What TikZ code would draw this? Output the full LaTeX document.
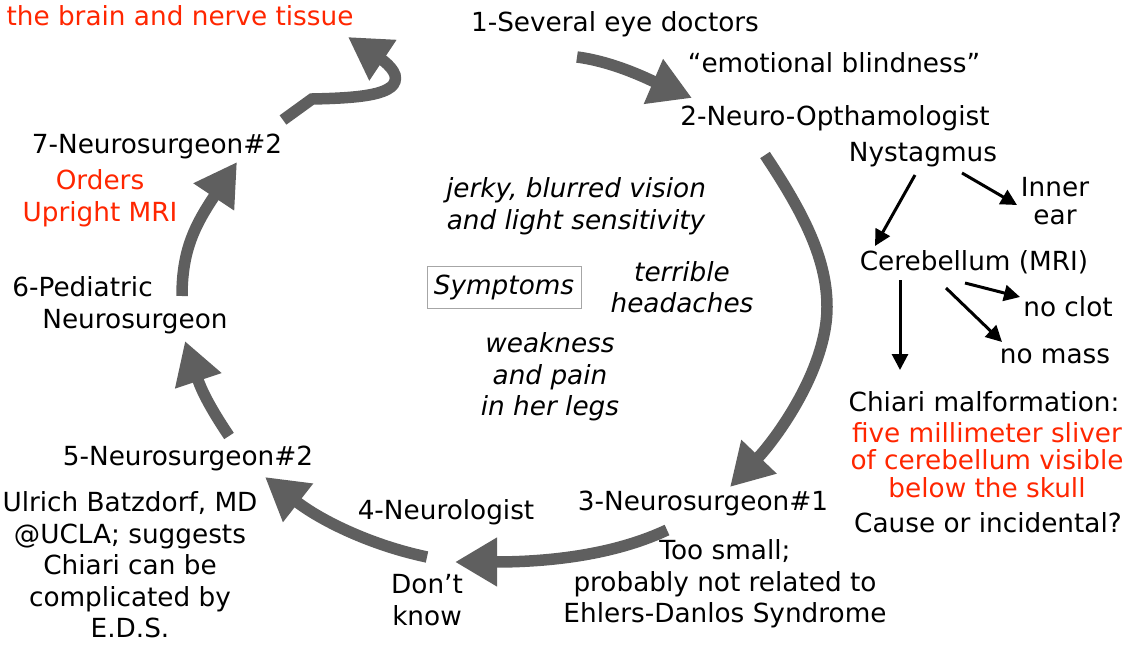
\documentclass[tikz,border=0pt]{standalone}
\usepackage{fontspec}
\setmainfont{DejaVu Sans}
\usetikzlibrary{arrows.meta}
\definecolor{redtxt}{RGB}{255,38,0}
\definecolor{arrgray}{RGB}{95,95,95}
\tikzset{
  txt/.style={inner sep=0pt, align=center, font=\fontsize{26.3}{31.5}\selectfont},
  tight/.style={font=\fontsize{26.3}{27.5}\selectfont},
  redt/.style={text=redtxt},
  itx/.style={font=\fontsize{26.3}{31.5}\selectfont\itshape},
  bigarrow/.style={draw=arrgray, line width=11.5pt,
    -{Triangle[length=42pt,width=46pt,fill=arrgray]}},
  smallarrow/.style={draw=black, line width=3pt,
    -{Triangle[length=16pt,width=16pt]}},
  symbox/.style={draw=black!35, line width=1pt, minimum width=154pt, minimum height=42pt, inner sep=0pt}
}
\begin{document}
\begin{tikzpicture}[x=1pt,y=-1pt]
\useasboundingbox (0,0) rectangle (1127,647);

% ---- texts ----
\node[txt,redt] (brain) at (180,16) {the brain and nerve tissue};
\node[txt] (n1) at (615,24) {1-Several eye doctors};
\node[txt] (emo) at (834,63) {“emotional blindness”};
\node[txt] (n2) at (835,118) {2-Neuro-Opthamologist};
\node[txt] (nys) at (923,155) {Nystagmus};
\node[txt,tight] (inner) at (1055,201) {Inner\\ear};
\node[txt] (cer) at (974,262) {Cerebellum (MRI)};
\node[txt] (clot) at (1068,307) {no clot};
\node[txt] (mass) at (1055,356) {no mass};
\node[txt] (chiari) at (984,402) {Chiari malformation:};
\node[txt,tight,redt] (sliver) at (987,460) {five millimeter sliver\\of cerebellum visible\\below the skull};
\node[txt] (cause) at (988,523) {Cause or incidental?};
\node[txt] (n3) at (703,503) {3-Neurosurgeon\#1};
\node[txt] (small) at (725,584) {Too small;\\probably not related to\\Ehlers-Danlos Syndrome};
\node[txt] (n4) at (446,512) {4-Neurologist};
\node[txt] (dont) at (427,600) {Don’t\\know};
\node[txt] (n5) at (188,458) {5-Neurosurgeon\#2};
\node[txt] (ulrich) at (130,565) {Ulrich Batzdorf, MD\\@UCLA; suggests\\Chiari can be\\complicated by\\E.D.S.};
\node[txt,align=left] (n6) at (120,305) {6-Pediatric\\\hspace*{30pt}Neurosurgeon};
\node[txt] (n7) at (157,146) {7-Neurosurgeon\#2};
\node[txt,redt] (orders) at (100,198) {Orders\\Upright MRI};
\node[txt,itx] (jerky) at (576,206) {jerky, blurred vision\\and light sensitivity};
\node[txt,itx,symbox] (sym) at (504,287) {Symptoms};
\node[txt,itx] (head) at (682,287) {terrible\\headaches};
\node[txt,itx] (weak) at (550,377) {weakness\\and pain\\in her legs};

% ---- big cycle arrows ----
\coordinate (a1s) at (577,57);  \coordinate (a1e) at (692,98);
\coordinate (a2s) at (765,155); \coordinate (a2e) at (730,487);
\coordinate (a3s) at (667,530); \coordinate (a3e) at (455,562);
\coordinate (a4s) at (427,557); \coordinate (a4e) at (265,477);
\coordinate (a5s) at (229,436); \coordinate (a5e) at (185,341);
\coordinate (a6s) at (182,296); \coordinate (a6e) at (237,162);
\coordinate (a7s) at (283,120); \coordinate (a7k) at (312,99); \coordinate (a7e) at (348,37);

\draw[bigarrow] (a1s) .. controls (615,62) and (650,80) .. (a1e);
\draw[bigarrow] (a2s) .. controls (805,215) and (827,260) .. (827,307)
                      .. controls (827,370) and (775,440) .. (a2e);
\draw[bigarrow] (a3s) .. controls (620,552) and (560,562) .. (a3e);
\draw[bigarrow] (a4s) .. controls (370,545) and (320,520) .. (a4e);
\draw[bigarrow] (a5s) .. controls (215,415) and (203,395) .. (a5e);
\draw[bigarrow] (a6s) .. controls (182,250) and (195,225) .. (a6e);
\draw[bigarrow] (a7s) -- (a7k) .. controls (360,98) and (400,95) .. (395,75)
                      .. controls (392,65) and (375,55) .. (a7e);

% ---- small black arrows ----
\coordinate (b1s) at (915,175); \coordinate (b1e) at (875,246);
\coordinate (b2s) at (962,173); \coordinate (b2e) at (1017,205);
\coordinate (b3s) at (965,283); \coordinate (b3e) at (1020,297);
\coordinate (b4s) at (946,288); \coordinate (b4e) at (1002,342);
\coordinate (b5s) at (900,280); \coordinate (b5e) at (900,370);
\draw[smallarrow] (b1s) -- (b1e);
\draw[smallarrow] (b2s) -- (b2e);
\draw[smallarrow] (b3s) -- (b3e);
\draw[smallarrow] (b4s) -- (b4e);
\draw[smallarrow] (b5s) -- (b5e);
\end{tikzpicture}
\end{document}
